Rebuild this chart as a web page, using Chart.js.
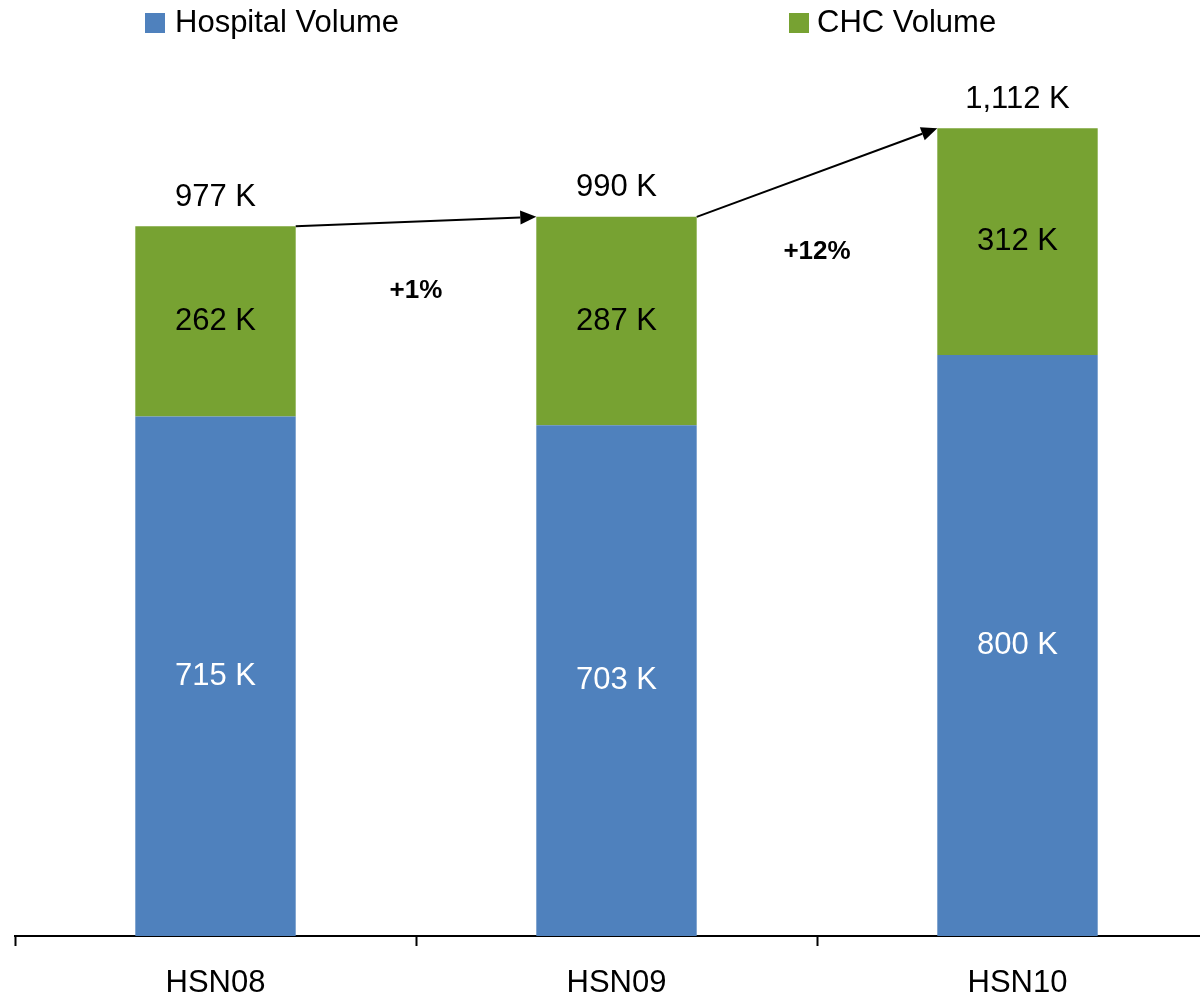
<!DOCTYPE html>
<html>
<head>
<meta charset="utf-8">
<script src="https://cdn.jsdelivr.net/npm/chart.js@4"></script>
<style>
  html, body { margin: 0; padding: 0; background: #fff; overflow: hidden; }
  #wrap { width: 1200px; height: 995px; overflow: hidden; position: relative; }
  canvas { display: block; }
</style>
</head>
<body>
<div id="wrap"><canvas id="chart" width="1220" height="995"></canvas></div>
<script>
const categories = ["HSN08", "HSN09", "HSN10"]
const hospitalVolume = [715, 703, 800]
const chcVolume = [262, 287, 312]
const totals = [977, 990, 1112]
const growthLabels = ["+1%", "+12%"]

const BLUE = "#4F81BD"
const GREEN = "#77A232"
const FONT = "'Liberation Sans', Arial, sans-serif"

function fmtK(v) {
  return v.toLocaleString("en-US") + " K"
}

const labelsPlugin = {
  id: "labels",
  afterDatasetsDraw(chart) {
    const ctx = chart.ctx
    const hosp = chart.getDatasetMeta(0).data
    const chc = chart.getDatasetMeta(1).data

    ctx.save()
    ctx.textAlign = "center"
    ctx.textBaseline = "middle"
    ctx.font = "31px " + FONT

    hosp.forEach((bar, i) => {
      ctx.fillStyle = "#fff"
      ctx.fillText(fmtK(hospitalVolume[i]), bar.x, (bar.y + bar.base) / 2)
    })
    chc.forEach((bar, i) => {
      ctx.fillStyle = "#000"
      ctx.fillText(fmtK(chcVolume[i]), bar.x, (bar.y + bar.base) / 2)
      ctx.fillText(fmtK(totals[i]), bar.x, bar.y - 29)
    })

    // growth arrows between bar tops
    const offsets = [69, 79]
    for (let i = 0; i < chc.length - 1; i++) {
      const a = chc[i], b = chc[i + 1]
      const x1 = a.x + a.width / 2, y1 = a.y
      const x2 = b.x - b.width / 2, y2 = b.y
      const ang = Math.atan2(y2 - y1, x2 - x1)
      const headLen = 16, headW = 7
      ctx.strokeStyle = "#000"
      ctx.lineWidth = 2
      ctx.beginPath()
      ctx.moveTo(x1, y1)
      ctx.lineTo(x2 - headLen * Math.cos(ang), y2 - headLen * Math.sin(ang))
      ctx.stroke()
      ctx.fillStyle = "#000"
      ctx.beginPath()
      ctx.moveTo(x2, y2)
      ctx.lineTo(x2 - headLen * Math.cos(ang) + headW * Math.sin(ang), y2 - headLen * Math.sin(ang) - headW * Math.cos(ang))
      ctx.lineTo(x2 - headLen * Math.cos(ang) - headW * Math.sin(ang), y2 - headLen * Math.sin(ang) + headW * Math.cos(ang))
      ctx.closePath()
      ctx.fill()

      ctx.font = "bold 26px " + FONT
      ctx.fillText(growthLabels[i], (x1 + x2) / 2, (y1 + y2) / 2 + offsets[i])
      ctx.font = "31px " + FONT
    }

    // legend
    const items = [
      { x: 145, color: BLUE, text: chart.data.datasets[0].label, gap: 10 },
      { x: 789, color: GREEN, text: chart.data.datasets[1].label, gap: 8 }
    ]
    ctx.textAlign = "left"
    items.forEach(it => {
      ctx.fillStyle = it.color
      ctx.fillRect(it.x, 13, 20, 20)
      ctx.fillStyle = "#000"
      ctx.fillText(it.text, it.x + 20 + it.gap, 23)
    })
    ctx.restore()
  }
}

new Chart(document.getElementById("chart"), {
  type: "bar",
  data: {
    labels: categories,
    datasets: [
      {
        label: "Hospital Volume",
        data: hospitalVolume,
        backgroundColor: BLUE,
        barPercentage: 1,
        categoryPercentage: 0.4
      },
      {
        label: "CHC Volume",
        data: chcVolume,
        backgroundColor: GREEN,
        barPercentage: 1,
        categoryPercentage: 0.4
      }
    ]
  },
  options: {
    responsive: false,
    animation: false,
    layout: {
      padding: { left: 15, right: 2, top: 28, bottom: 0 }
    },
    plugins: {
      legend: { display: false },
      tooltip: { enabled: false }
    },
    scales: {
      x: {
        stacked: true,
        offset: true,
        afterFit(scale) {
          scale.height = 59
        },
        grid: {
          offset: true,
          drawOnChartArea: false,
          drawTicks: true,
          tickLength: 10,
          tickWidth: 2,
          tickColor: "#000"
        },
        border: { display: true, color: "#000", width: 2 },
        ticks: {
          color: "#000",
          font: { family: FONT, size: 31 },
          padding: 19
        }
      },
      y: {
        stacked: true,
        display: false,
        min: 0,
        max: 1250
      }
    }
  },
  plugins: [labelsPlugin]
})
</script>
</body>
</html>
